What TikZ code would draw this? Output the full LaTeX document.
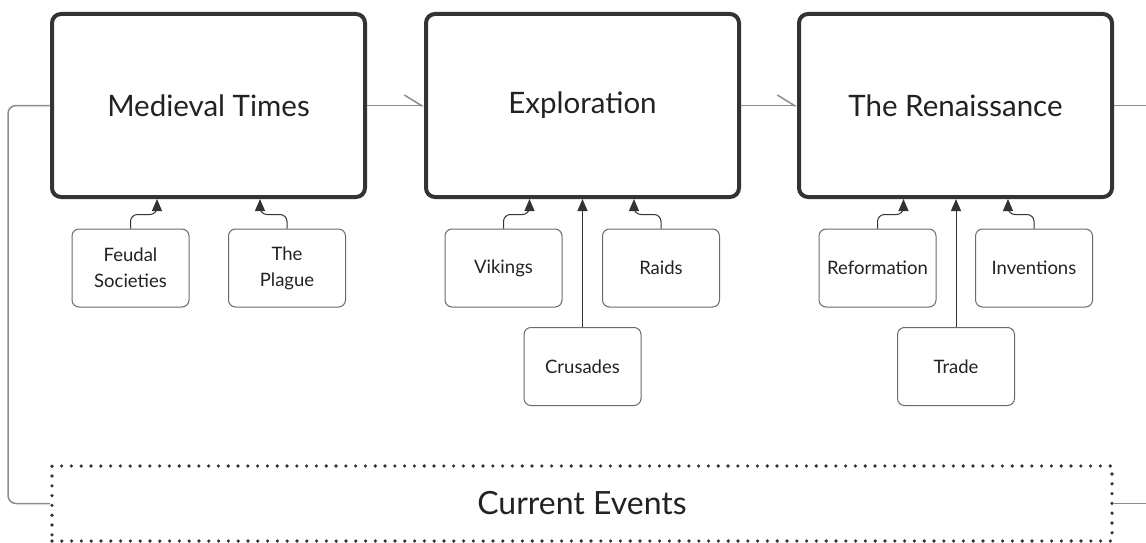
\documentclass[tikz,border=0pt]{standalone}
\usepackage{fontspec}
\setmainfont{Lato}
\usetikzlibrary{arrows.meta}
\definecolor{bigborder}{HTML}{333333}
\definecolor{smallborder}{HTML}{6A6A6A}
\definecolor{connector}{HTML}{8C8C8C}
\definecolor{feedline}{HTML}{333333}
\definecolor{txt}{HTML}{222222}
\tikzset{
  bigbox/.style={draw=bigborder, line width=4pt, rounded corners=9pt,
    minimum width=313pt, minimum height=183pt, inner sep=0pt, text=txt,
    font={\fontsize{29.5}{34}\selectfont}},
  smallbox/.style={draw=smallborder, line width=1pt, rounded corners=7pt,
    minimum width=117pt, minimum height=78pt, inner sep=0pt, text=txt,
    align=center, font={\fontsize{18.5}{26}\selectfont}},
  eventsbox/.style={draw=bigborder, line width=3.6pt, dash pattern=on 0pt off 9.8pt,
    line cap=round, minimum width=1060pt, minimum height=75pt, inner sep=0pt,
    text=txt, font={\fontsize{32}{36}\selectfont}},
  flow/.style={draw=connector, line width=1.5pt,
    -{Straight Barb[left, length=17pt, width=21pt, line width=1.5pt]}},
  feed/.style={draw=feedline, line width=1pt, rounded corners=7pt,
    -{Triangle[length=12pt, width=10pt]}},
  conn/.style={draw=connector, line width=1.5pt, rounded corners=8pt},
}
\begin{document}
\begin{tikzpicture}[x=1pt, y=-1pt]
\useasboundingbox (0,0) rectangle (1146,543);

\node[bigbox] (medieval) at (208.5,105.5) {Medieval Times};
\node[bigbox] (exploration) at (582.5,105.5) {Exploration};
\node[bigbox] (renaissance) at (955.5,105.5) {The Renaissance};

\node[smallbox] (feudal) at (130.5,268) {Feudal\\Societies};
\node[smallbox] (plague) at (287,268) {The\\Plague};
\node[smallbox] (vikings) at (503.5,268) {Vikings};
\node[smallbox] (raids) at (661,268) {Raids};
\node[smallbox] (crusades) at (582.5,366.5) {Crusades};
\node[smallbox] (reformation) at (877.5,268) {Reformation};
\node[smallbox] (inventions) at (1034,268) {Inventions};
\node[smallbox] (trade) at (956,366.5) {Trade};

\node[eventsbox] (events) at (582,503.5) {Current Events};

\coordinate (rightend) at (1146,105.5);
\coordinate (eventsend) at (1146,503.5);

% flow between eras
\draw[flow] (medieval.east) -- (exploration.west);
\draw[flow] (exploration.east) -- (renaissance.west);
\draw[conn] (renaissance.east) -- (rightend);
\draw[conn] (medieval.west) -- ++(-42,0) |- (events.west);
\draw[conn] (events.east) -- (eventsend);

% sub-topics
\draw[feed] (feudal.north) -- ++(0,-14) -- ++(26.5,0) -- ([xshift=26.5pt]feudal.north |- medieval.south);
\draw[feed] (plague.north) -- ++(0,-14) -- ++(-27,0) -- ([xshift=-27pt]plague.north |- medieval.south);
\draw[feed] (vikings.north) -- ++(0,-14) -- ++(26,0) -- ([xshift=26pt]vikings.north |- exploration.south);
\draw[feed] (raids.north) -- ++(0,-14) -- ++(-27,0) -- ([xshift=-27pt]raids.north |- exploration.south);
\draw[feed] (crusades.north) -- (crusades.north |- exploration.south);
\draw[feed] (reformation.north) -- ++(0,-14) -- ++(26,0) -- ([xshift=26pt]reformation.north |- renaissance.south);
\draw[feed] (inventions.north) -- ++(0,-14) -- ++(-26,0) -- ([xshift=-26pt]inventions.north |- renaissance.south);
\draw[feed] (trade.north) -- (trade.north |- renaissance.south);
\end{tikzpicture}
\end{document}
